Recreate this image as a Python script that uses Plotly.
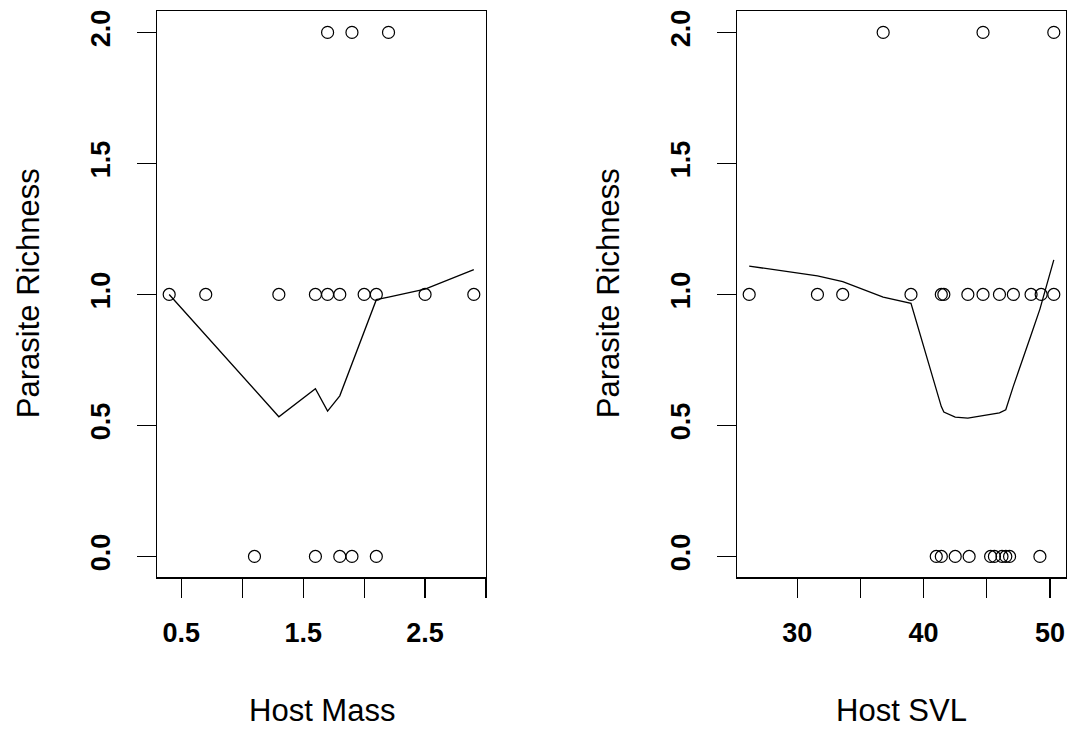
import plotly.graph_objects as go

# ---- data ----
mass_pts_x = [0.4, 0.7, 1.3, 1.6, 1.7, 1.8, 2.0, 2.1, 2.5, 2.9,
              1.7, 1.9, 2.2,
              1.1, 1.6, 1.8, 1.9, 2.1]
mass_pts_y = [1, 1, 1, 1, 1, 1, 1, 1, 1, 1,
              2, 2, 2,
              0, 0, 0, 0, 0]
mass_line_x = [0.4, 0.7, 1.1, 1.3, 1.6, 1.7, 1.8, 1.9, 2.0, 2.1, 2.2, 2.5, 2.9]
mass_line_y = [1.0, 0.844, 0.637, 0.533, 0.64, 0.555, 0.613, 0.735, 0.858, 0.98, 0.99, 1.02, 1.095]

svl_pts_x = [26.2, 31.6, 33.6, 39.0, 41.4, 41.6, 43.5, 44.7, 46.0, 47.1, 48.5, 49.3, 50.3,
             36.8, 44.7, 50.3,
             41.0, 41.4, 42.5, 43.6, 45.3, 45.6, 46.2, 46.5, 46.8, 49.2]
svl_pts_y = [1] * 13 + [2] * 3 + [0] * 10
svl_line_x = [26.2, 31.6, 33.6, 36.8, 39.0, 41.0, 41.4, 41.6, 42.5, 43.5, 44.7, 46.0, 46.5,
              47.1, 48.5, 49.2, 50.3]
svl_line_y = [1.108, 1.071, 1.049, 0.99, 0.966, 0.642, 0.572, 0.551, 0.532, 0.528, 0.537, 0.548, 0.56,
              0.65, 0.845, 0.944, 1.132]

y_ticks = [0, 0.5, 1.0, 1.5, 2.0]
y_ticktext = ["0.0", "0.5", "1.0", "1.5", "2.0"]
mass_ticks = [0.5, 1.0, 1.5, 2.0, 2.5, 3.0]
mass_ticktext = ["0.5", "", "1.5", "", "2.5", ""]
svl_ticks = [30, 35, 40, 45, 50]
svl_ticktext = ["30", "", "40", "", "50"]

x_title_left = "Host Mass"
x_title_right = "Host SVL"
y_title = "Parasite Richness"

# ---- figure ----
W, H = 1074, 729
FONT = "Liberation Sans, Arial, sans-serif"

fig = go.Figure()
marker = dict(symbol="circle-open", size=12, color="black", line=dict(width=1.2, color="black"))

fig.add_trace(go.Scatter(x=mass_pts_x, y=mass_pts_y, mode="markers", marker=marker,
                         xaxis="x", yaxis="y", showlegend=False))
fig.add_trace(go.Scatter(x=mass_line_x, y=mass_line_y, mode="lines",
                         line=dict(color="black", width=1.3), xaxis="x", yaxis="y", showlegend=False))
fig.add_trace(go.Scatter(x=svl_pts_x, y=svl_pts_y, mode="markers", marker=marker,
                         xaxis="x2", yaxis="y2", showlegend=False))
fig.add_trace(go.Scatter(x=svl_line_x, y=svl_line_y, mode="lines",
                         line=dict(color="black", width=1.3), xaxis="x2", yaxis="y2", showlegend=False))

tickfont = dict(family=FONT, size=27, color="black", weight="bold")
common = dict(showline=True, linecolor="black", linewidth=1.2, mirror=True,
              ticks="outside", ticklen=19, tickwidth=1.2, tickcolor="black",
              showgrid=False, zeroline=False, tickfont=tickfont, fixedrange=True)

ydom = [1 - 577 / H, 1 - 9.5 / H]
xmin, xmax = min(mass_pts_x), max(mass_pts_x)
sxmin, sxmax = min(svl_pts_x), max(svl_pts_x)

fig.update_layout(
    width=W, height=H,
    margin=dict(l=0, r=0, t=0, b=0),
    paper_bgcolor="white", plot_bgcolor="white",
    xaxis=dict(domain=[157 / W, 486 / W], range=[xmin - 0.04 * (xmax - xmin), xmax + 0.04 * (xmax - xmin)],
               tickvals=mass_ticks, ticktext=mass_ticktext, ticklabelstandoff=12, anchor="y", **common),
    yaxis=dict(domain=ydom, range=[-0.08, 2.08], tickvals=y_ticks, ticktext=y_ticktext,
               tickangle=-90, ticklabelstandoff=16, anchor="x", **common),
    xaxis2=dict(domain=[737 / W, 1066 / W], range=[sxmin - 0.04 * (sxmax - sxmin), sxmax + 0.04 * (sxmax - sxmin)],
                tickvals=svl_ticks, ticktext=svl_ticktext, ticklabelstandoff=12, anchor="y2", **common),
    yaxis2=dict(domain=ydom, range=[-0.08, 2.08], tickvals=y_ticks, ticktext=y_ticktext,
                tickangle=-90, ticklabelstandoff=16, anchor="x2", **common),
)

title_font = dict(family=FONT, size=31, color="black")
fig.add_annotation(text=x_title_left, x=321.5 / W, y=1 - 710 / H, xref="paper", yref="paper",
                   showarrow=False, font=title_font, xanchor="center", yanchor="middle")
fig.add_annotation(text=x_title_right, x=901.5 / W, y=1 - 710 / H, xref="paper", yref="paper",
                   showarrow=False, font=title_font, xanchor="center", yanchor="middle")
fig.add_annotation(text=y_title, x=28 / W, y=1 - 292 / H, xref="paper", yref="paper",
                   showarrow=False, font=title_font, textangle=-90, xanchor="center", yanchor="middle")
fig.add_annotation(text=y_title, x=608 / W, y=1 - 292 / H, xref="paper", yref="paper",
                   showarrow=False, font=title_font, textangle=-90, xanchor="center", yanchor="middle")

fig.write_html(
    "out.html",
    config={"displayModeBar": False, "staticPlot": True},
    post_script="document.body.style.margin='0';document.body.style.padding='0';"
                "document.documentElement.style.overflow='hidden';",
)
